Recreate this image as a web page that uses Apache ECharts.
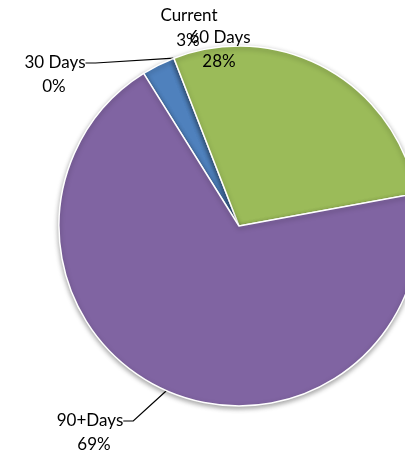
<!DOCTYPE html>
<html>
<head>
<meta charset="utf-8">
<script src="https://cdn.jsdelivr.net/npm/echarts@6/dist/echarts.min.js"></script>
<style>
  html, body { margin: 0; padding: 0; background: #ffffff; }
  #chart { width: 405px; height: 453px; }
</style>
</head>
<body>
<div id="chart"></div>
<script>
// Ageing buckets and their share of the balance (percent)
const categories = ['Current', '30 Days', '60 Days', '90+Days'];
const shares = [3, 0, 28, 69];
const colors = ['#4F81BD', '#C0504D', '#9BBB59', '#8064A2'];

// Label placement: bucket name line and percentage line
const nameSpots = [
  { x: 189, y: 16 },
  { x: 58, y: 63 },
  { x: 220, y: 38 },
  { x: 93, y: 421 }
];
const namePadding = [
  [0, 0, 0, 0],
  [0, 6, 0, 0],
  [0, 0, 0, 0],
  [0, 6, 0, 0]
];
const pctSpots = [
  { x: 188, y: 41 },
  { x: 54, y: 87 },
  { x: 219, y: 62 },
  { x: 94, y: 445 }
];
const showLeader = [false, true, false, true];

const font = { fontFamily: 'Lato', fontSize: 17, color: '#000000' };

const pieBase = {
  type: 'pie',
  center: [239, 226],
  radius: 180,
  startAngle: 122,
  clockwise: true,
  minAngle: 0,
  avoidLabelOverlap: false,
  stillShowZeroSum: true
};

const chart = echarts.init(document.getElementById('chart'), null, { renderer: 'canvas' });

chart.setOption({
  backgroundColor: '#ffffff',
  animation: false,
  series: [
    Object.assign({}, pieBase, {
      itemStyle: {
        borderColor: '#ffffff',
        borderWidth: 1.5,
        shadowColor: 'rgba(0,0,0,0.35)',
        shadowBlur: 5,
        shadowOffsetY: 2
      },
      label: Object.assign({ show: true, position: 'outside', formatter: '{b}' }, font),
      labelLine: {
        show: true,
        length: 10,
        length2: 10,
        smooth: false,
        lineStyle: { color: '#000000', width: 1.2 }
      },
      labelLayout: params => {
        const s = nameSpots[params.dataIndex];
        return { x: s.x, y: s.y, align: 'center', verticalAlign: 'middle', hideOverlap: false };
      },
      data: categories.map((name, i) => ({
        name: name,
        value: shares[i],
        itemStyle: { color: colors[i] },
        label: { padding: namePadding[i] },
        labelLine: { show: showLeader[i] }
      }))
    }),
    // Percentage line of each label, drawn by a transparent twin of the pie
    Object.assign({}, pieBase, {
      silent: true,
      itemStyle: { color: 'rgba(0,0,0,0)', borderWidth: 0 },
      label: Object.assign({
        show: true,
        position: 'outside',
        formatter: p => Math.round(p.value) + '%'
      }, font),
      labelLine: { show: false },
      labelLayout: params => {
        const s = pctSpots[params.dataIndex];
        return { x: s.x, y: s.y, align: 'center', verticalAlign: 'middle', hideOverlap: false };
      },
      data: categories.map((name, i) => ({ name: name, value: shares[i] }))
    })
  ]
});
</script>
</body>
</html>
